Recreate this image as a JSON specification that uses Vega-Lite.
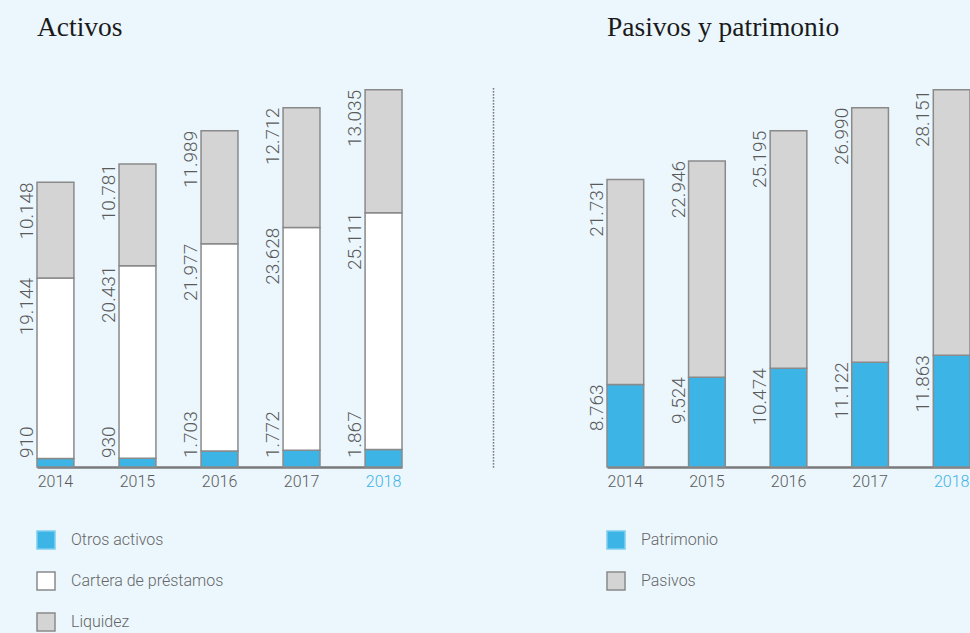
{
  "$schema": "https://vega.github.io/schema/vega-lite/v6.json",
  "background": "#ebf6fd",
  "padding": {"left": 18, "top": 13, "right": 0, "bottom": 0},
  "config": {
    "view": {"stroke": null},
    "locale": {"number": {"decimal": ",", "thousands": ".", "grouping": [3], "currency": ["", " €"]}},
    "title": {"font": "Liberation Serif", "fontSize": 27.5, "fontWeight": "normal", "color": "#1a1a1a", "anchor": "start", "frame": "group", "baseline": "alphabetic", "offset": 46},
    "axisX": {"title": null, "labelAngle": 0, "ticks": false, "domainColor": "#7a7a7a", "domainWidth": 2.5, "labelPadding": 6, "labelFontSize": 16, "labelFont": "Roboto", "labelFontWeight": 300, "labelColor": {"condition": {"test": "datum.value == 2018", "value": "#3cb4e5"}, "value": "#5a5a5a"}, "grid": false},
    "legend": {"orient": "none", "legendX": -1, "legendY": 443, "direction": "vertical", "title": null, "symbolType": "square", "symbolSize": 324, "symbolStrokeWidth": 1.5, "symbolStrokeColor": "#8a8a8a", "symbolOpacity": 1, "rowPadding": 17, "labelFont": "Roboto", "labelFontWeight": 300, "labelFontSize": 16, "labelColor": "#666666", "labelOffset": 15, "padding": 0}
  },
  "datasets": {
    "activos": [
      {"year": 2014, "category": "Otros activos", "orden": 1, "value": 910},
      {"year": 2014, "category": "Cartera de préstamos", "orden": 2, "value": 19144},
      {"year": 2014, "category": "Liquidez", "orden": 3, "value": 10148},
      {"year": 2015, "category": "Otros activos", "orden": 1, "value": 930},
      {"year": 2015, "category": "Cartera de préstamos", "orden": 2, "value": 20431},
      {"year": 2015, "category": "Liquidez", "orden": 3, "value": 10781},
      {"year": 2016, "category": "Otros activos", "orden": 1, "value": 1703},
      {"year": 2016, "category": "Cartera de préstamos", "orden": 2, "value": 21977},
      {"year": 2016, "category": "Liquidez", "orden": 3, "value": 11989},
      {"year": 2017, "category": "Otros activos", "orden": 1, "value": 1772},
      {"year": 2017, "category": "Cartera de préstamos", "orden": 2, "value": 23628},
      {"year": 2017, "category": "Liquidez", "orden": 3, "value": 12712},
      {"year": 2018, "category": "Otros activos", "orden": 1, "value": 1867},
      {"year": 2018, "category": "Cartera de préstamos", "orden": 2, "value": 25111},
      {"year": 2018, "category": "Liquidez", "orden": 3, "value": 13035}
    ],
    "pasivos": [
      {"year": 2014, "category": "Patrimonio", "orden": 1, "value": 8763},
      {"year": 2014, "category": "Pasivos", "orden": 2, "value": 21731},
      {"year": 2015, "category": "Patrimonio", "orden": 1, "value": 9524},
      {"year": 2015, "category": "Pasivos", "orden": 2, "value": 22946},
      {"year": 2016, "category": "Patrimonio", "orden": 1, "value": 10474},
      {"year": 2016, "category": "Pasivos", "orden": 2, "value": 25195},
      {"year": 2017, "category": "Patrimonio", "orden": 1, "value": 11122},
      {"year": 2017, "category": "Pasivos", "orden": 2, "value": 26990},
      {"year": 2018, "category": "Patrimonio", "orden": 1, "value": 11863},
      {"year": 2018, "category": "Pasivos", "orden": 2, "value": 28151}
    ]
  },
  "spacing": 205,
  "bounds": "flush",
  "resolve": {"scale": {"color": "independent", "x": "independent", "y": "independent"}},
  "hconcat": [
    {
      "width": 365,
      "height": 380,
      "title": {"text": "Activos"},
      "data": {"name": "activos"},
      "transform": [{"stack": "value", "groupby": ["year"], "sort": [{"field": "orden", "order": "ascending"}], "as": ["v0", "v1"]}],
      "layer": [
        {
          "mark": {"type": "bar", "stroke": "#8a8a8a", "strokeWidth": 1.5},
          "encoding": {
            "x": {"field": "year", "type": "ordinal", "scale": {"paddingInner": 0.55, "paddingOuter": 0}},
            "y": {"field": "v0", "type": "quantitative", "scale": {"domain": [0, 40318], "nice": false},
              "axis": {"orient": "right", "offset": 91, "title": null, "labels": false, "ticks": false, "grid": false, "domainDash": [1.2, 1.8], "domainColor": "#555555", "domainWidth": 1.5}},
            "y2": {"field": "v1"},
            "color": {"field": "category", "type": "nominal",
              "scale": {"domain": ["Otros activos", "Cartera de préstamos", "Liquidez"], "range": ["#3cb4e5", "#ffffff", "#d4d4d4"]},
              "legend": {"encode": {"symbols": {"update": {"stroke": {"signal": "datum.value === 'Otros activos' ? '#7fcdef' : '#8a8a8a'"}}}}}}
          }
        },
        {
          "transform": [{"filter": "datum.category !== 'Otros activos'"}],
          "mark": {"type": "text", "angle": 270, "align": "right", "baseline": "alphabetic", "dy": -4, "font": "Roboto", "fontWeight": 300, "fontSize": 19, "color": "#5a5a5a"},
          "encoding": {
            "x": {"field": "year", "type": "ordinal", "bandPosition": 0},
            "y": {"field": "v1", "type": "quantitative"},
            "text": {"field": "value", "type": "quantitative", "format": ",d"}
          }
        },
        {
          "transform": [{"filter": "datum.category === 'Otros activos'"}],
          "mark": {"type": "text", "angle": 270, "align": "left", "baseline": "alphabetic", "dy": -4, "dx": 9, "font": "Roboto", "fontWeight": 300, "fontSize": 19, "color": "#5a5a5a"},
          "encoding": {
            "x": {"field": "year", "type": "ordinal", "bandPosition": 0},
            "y": {"field": "v0", "type": "quantitative"},
            "text": {"field": "value", "type": "quantitative", "format": ",d"}
          }
        }
      ]
    },
    {
      "width": 363,
      "height": 380,
      "title": {"text": "Pasivos y patrimonio"},
      "data": {"name": "pasivos"},
      "transform": [{"stack": "value", "groupby": ["year"], "sort": [{"field": "orden", "order": "ascending"}], "as": ["v0", "v1"]}],
      "layer": [
        {
          "mark": {"type": "bar", "stroke": "#8a8a8a", "strokeWidth": 1.5},
          "encoding": {
            "x": {"field": "year", "type": "ordinal", "scale": {"paddingInner": 0.55, "paddingOuter": 0}},
            "y": {"field": "v0", "type": "quantitative", "scale": {"domain": [0, 40318], "nice": false}, "axis": null},
            "y2": {"field": "v1"},
            "color": {"field": "category", "type": "nominal",
              "scale": {"domain": ["Patrimonio", "Pasivos"], "range": ["#3cb4e5", "#d4d4d4"]},
              "legend": {"encode": {"symbols": {"update": {"stroke": {"signal": "datum.value === 'Patrimonio' ? '#7fcdef' : '#8a8a8a'"}}}}}}
          }
        },
        {
          "mark": {"type": "text", "angle": 270, "align": "right", "baseline": "alphabetic", "dy": -4, "font": "Roboto", "fontWeight": 300, "fontSize": 19, "color": "#5a5a5a"},
          "encoding": {
            "x": {"field": "year", "type": "ordinal", "bandPosition": 0},
            "y": {"field": "v1", "type": "quantitative"},
            "text": {"field": "value", "type": "quantitative", "format": ",d"}
          }
        }
      ]
    }
  ]
}
